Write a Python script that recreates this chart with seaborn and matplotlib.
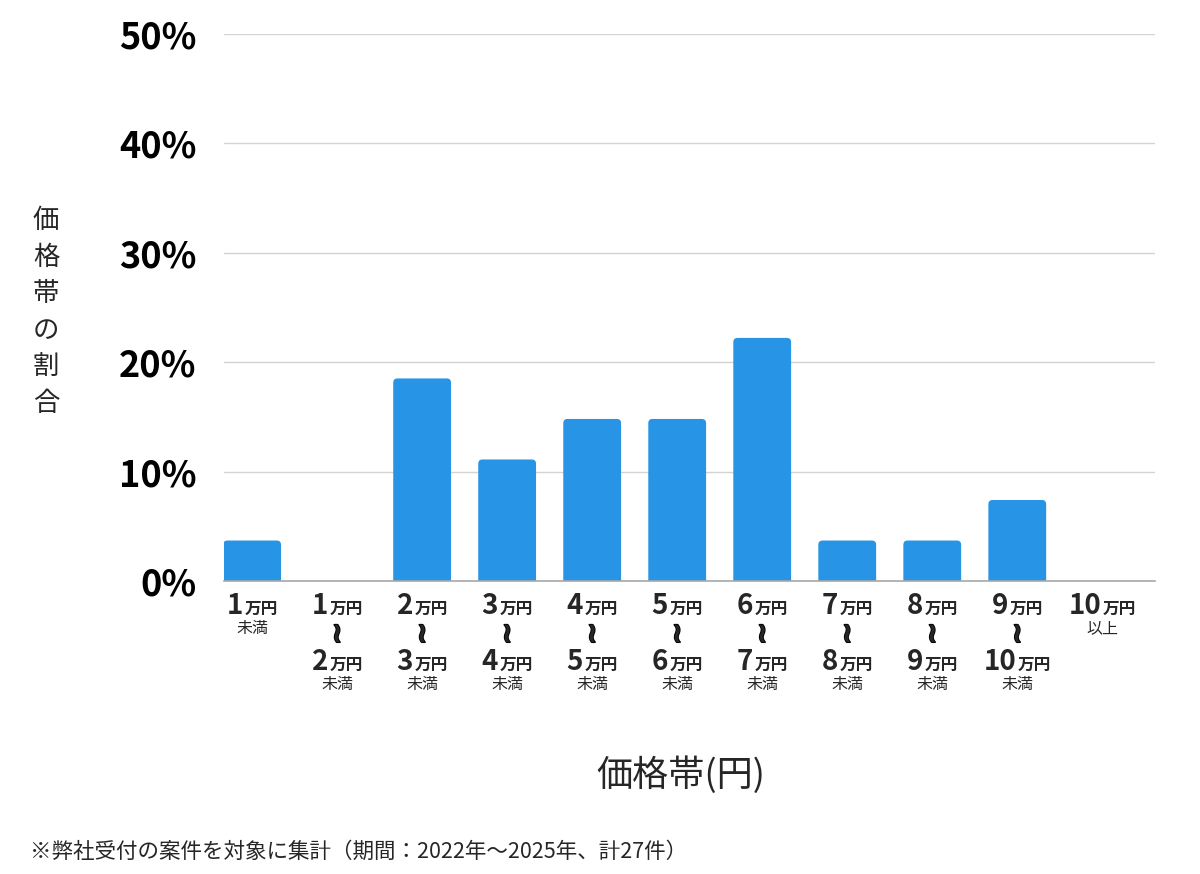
import numpy as np
import pandas as pd
import seaborn as sns
import matplotlib.pyplot as plt
import matplotlib.patheffects as pe
from matplotlib.patches import FancyBboxPatch
from matplotlib.offsetbox import TextArea, HPacker, VPacker, AnnotationBbox

# price bands: (lower, upper) in 万円, None = open end
band_low = [None, 1, 2, 3, 4, 5, 6, 7, 8, 9, 10]
band_high = [1, 2, 3, 4, 5, 6, 7, 8, 9, 10, None]
counts = [1, 0, 5, 3, 4, 4, 6, 1, 1, 2, 0]
total_cases = 27
share = [c / total_cases * 100 for c in counts]
yticks = [0, 10, 20, 30, 40, 50]

bar_color = "#2794e6"
jp = "Noto Sans CJK JP"

sns.set_theme(style="white")
plt.rcParams['font.family'] = [jp, 'DejaVu Sans']

df = pd.DataFrame({"band": [str(i) for i in range(len(counts))], "share": share})

fig = plt.figure(figsize=(12, 8.74), dpi=100)
ax = fig.add_axes([0.1867, 0.3352, 0.7758, 0.6259])

sns.barplot(data=df, x="band", y="share", color=bar_color, width=0.68,
            saturation=1, ax=ax, zorder=3)

ax.set_xlim(-0.33, 10.62)
ax.set_ylim(0, 50)

# swap the plain bars for ones with slightly rounded tops
aspect = (85 / 1.0) / (547 / 50.0)
for p in list(ax.patches):
    x, w, h = p.get_x(), p.get_width(), p.get_height()
    p.remove()
    if h <= 0:
        continue
    ax.add_patch(FancyBboxPatch((x, -1), w, h + 1,
                                boxstyle="round,pad=0,rounding_size=0.05",
                                mutation_aspect=aspect, facecolor=bar_color,
                                edgecolor="none", zorder=3))

ax.set_yticks(yticks)
ax.set_yticklabels([f"{v}%" for v in yticks], fontsize=26, fontweight="bold",
                   color="black")
ax.tick_params(axis="y", length=0, pad=20)
ax.tick_params(axis="x", length=0, labelbottom=False)
ax.grid(axis="y", color="#d3d3d3", linewidth=1, zorder=0)
for s in ["left", "right", "top"]:
    ax.spines[s].set_visible(False)
ax.spines["bottom"].set_color("#a8a8a8")
ax.spines["bottom"].set_linewidth(1.2)
ax.spines["bottom"].set_zorder(4)
ax.set_xlabel("")
ax.set_ylabel("")


def amount(n):
    return HPacker(children=[
        TextArea(str(n), textprops=dict(fontsize=20, fontweight="bold", family=[jp])),
        TextArea("万円", textprops=dict(fontsize=12, fontweight="bold", family=[jp])),
    ], align="baseline", pad=0, sep=1)


def small(s):
    return TextArea(s, textprops=dict(fontsize=11.5, family=[jp]))


def wave():
    return TextArea("≀", textprops=dict(
        fontsize=20, fontweight="bold", family=['DejaVu Sans'],
        path_effects=[pe.withStroke(linewidth=1.3, foreground="black")]))


xform = ax.get_xaxis_transform()
for i, (lo, hi) in enumerate(zip(band_low, band_high)):
    if lo is None:
        rows = [amount(hi), small("未満")]
    elif hi is None:
        rows = [amount(lo), small("以上")]
    else:
        rows = [amount(lo), wave(), amount(hi), small("未満")]
    box = VPacker(children=rows, align="center", pad=0, sep=0)
    ab = AnnotationBbox(box, (i, 0), xycoords=xform, xybox=(0, -8),
                        boxcoords="offset points", box_alignment=(0.5, 1),
                        frameon=False, pad=0, annotation_clip=False)
    ax.add_artist(ab)

fig.text(0.0383, 0.643, "\n".join("価格帯の割合"), fontsize=19, ha="center",
         va="center", linespacing=1.45)
fig.text(0.5675, 0.113, "価格帯(円)", fontsize=26, ha="center", va="center")
fig.text(0.025, 0.025, "※弊社受付の案件を対象に集計（期間：2022年〜2025年、計27件）",
         fontsize=15.5, ha="left", va="center")

fig.savefig("out.png", dpi=100, facecolor="white")
